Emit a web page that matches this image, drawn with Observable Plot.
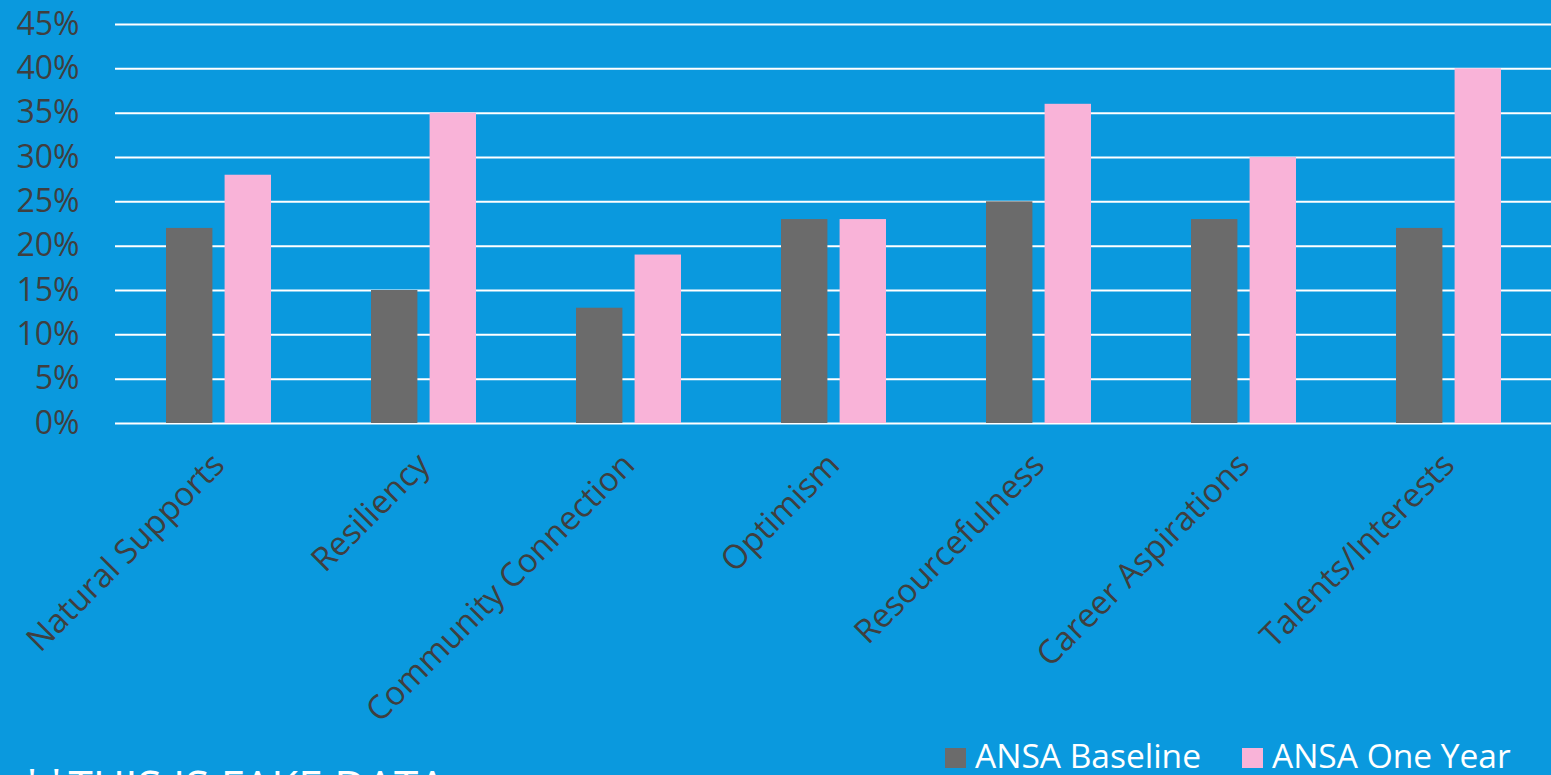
<!DOCTYPE html>
<html><head><meta charset="utf-8">
<script src="https://cdn.jsdelivr.net/npm/d3@7"></script>
<script src="https://cdn.jsdelivr.net/npm/@observablehq/plot@0.6"></script>
<style>
html,body{margin:0;padding:0;background:#0A99DE;width:1551px;height:775px;overflow:hidden;}
#wrap{position:relative;width:1551px;height:775px;}
#chart{position:absolute;left:0;top:0;}
#legend{position:absolute;left:945px;top:737px;display:flex;align-items:flex-start;font-family:"Open Sans",sans-serif;font-size:33.5px;line-height:1.1;color:#fff;white-space:nowrap;}
#legend .item{display:flex;align-items:flex-start;margin-right:41px;}
#legend .sw{width:21px;height:20px;margin-right:9px;margin-top:11px;}
#note{position:absolute;left:20px;top:763px;font-family:"Open Sans",sans-serif;font-size:44px;line-height:1;color:#fff;white-space:nowrap;}
</style></head>
<body><div id="wrap"><div id="chart"></div><div id="legend"></div><div id="note">**THIS IS FAKE DATA</div></div>
<script>
const categories = ["Natural Supports","Resiliency","Community Connection","Optimism","Resourcefulness","Career Aspirations","Talents/Interests"];
const seriesNames = ["ANSA Baseline","ANSA One Year"];
const baseline = [22,15,13,23,25,23,22];
const oneYear = [28,35,19,23,36,30,40];
const yTicks = [0,5,10,15,20,25,30,35,40,45];
const colors = ["#6B6B6B","#F9B3D8"];

const baseRows = categories.map((c,i) => ({category:c, series:seriesNames[0], value:baseline[i]}));
const yearRows = categories.map((c,i) => ({category:c, series:seriesNames[1], value:oneYear[i]}));

// band geometry: group of two bars occupies the band; each bar ~44% of band
const W = 1551, ML = 115, MR = 0;
const padInner = 0.49, padOuter = 0.245;
const step = (W - ML - MR) / (categories.length - padInner + 2*padOuter);
const bw = step * (1 - padInner);
const barW = bw * 0.44;
const gapInset = bw - barW;

const chart = Plot.plot({
  width:W, height:740,
  marginLeft:ML, marginRight:MR, marginTop:24, marginBottom:317,
  style:{background:"transparent", color:"#3F3F3F", fontFamily:"'Open Sans', sans-serif", overflow:"visible"},
  x:{domain:categories, paddingInner:padInner, paddingOuter:padOuter, label:null},
  y:{domain:[0,45], label:null},
  color:{domain:seriesNames, range:colors},
  marks:[
    Plot.ruleY(yTicks, {y:d=>d, stroke:"#fff", strokeWidth:2}),
    Plot.axisY(yTicks, {tickSize:0, tickPadding:36, tickFormat:d=>d+"%", fontSize:32, label:null, fill:"#3F3F3F"}),
    Plot.barY(baseRows, {x:"category", y:"value", fill:"series", insetRight:gapInset}),
    Plot.barY(yearRows, {x:"category", y:"value", fill:"series", insetLeft:gapInset}),
    Plot.axisX({tickSize:0, tickPadding:36, tickRotate:-45, textAnchor:"end", fontSize:33, label:null, fill:"#3F3F3F"})
  ]
});
document.getElementById("chart").appendChild(chart);

const legend = document.getElementById("legend");
seriesNames.forEach((s,i) => {
  const it = document.createElement("div"); it.className="item";
  const sw = document.createElement("span"); sw.className="sw"; sw.style.background=colors[i];
  const lb = document.createElement("span"); lb.className="lbl"; lb.textContent=s;
  it.appendChild(sw); it.appendChild(lb); legend.appendChild(it);
});
</script></body></html>
